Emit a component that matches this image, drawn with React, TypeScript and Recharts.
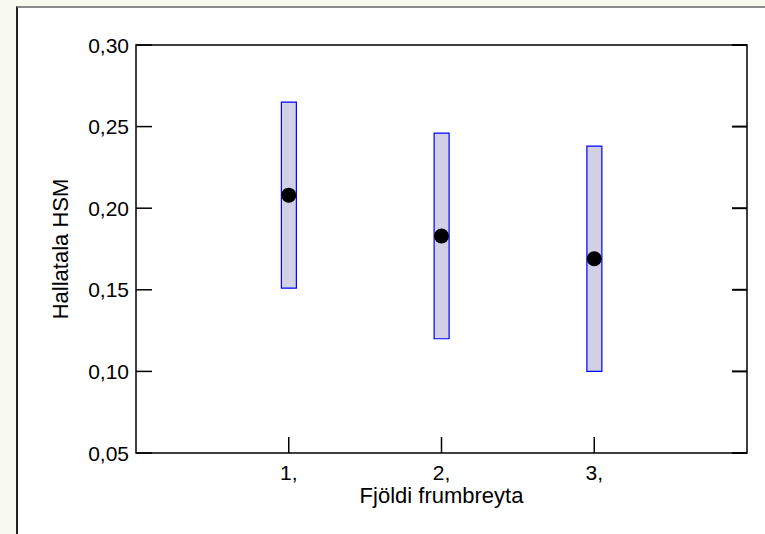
import {
  Bar,
  ComposedChart,
  ReferenceArea,
  Scatter,
  XAxis,
  YAxis,
} from "recharts";

// Fjöldi frumbreyta (number of predictors) and the HSM interval per group
const predictorCounts = [1, 2, 3];
const intervalLow = [0.151, 0.12, 0.1];
const intervalHigh = [0.265, 0.246, 0.238];
const meanValues = [0.208, 0.183, 0.169];

const yTicks = [0.05, 0.1, 0.15, 0.2, 0.25, 0.3];
const xTicks = [1, 2, 3];
const xDomain: [number, number] = [0, 4];
const yDomain: [number, number] = [0.05, 0.3];

const rows = predictorCounts.map((n, i) => ({
  n,
  range: [intervalLow[i], intervalHigh[i]],
  mean: meanValues[i],
}));

const font = "'Liberation Sans', Arial, sans-serif";
const titleStyle = { fontSize: 22, fill: "#000", fontFamily: font };

const fmtY = (v: number) => v.toFixed(2).replace(".", ",");
const fmtX = (v: number) => `${v},`;

// layout
const W = 765;
const H = 534;
const TOP = 45;
const RIGHT = 18;
const Y_AXIS_W = 136;
const X_AXIS_H = 81;
const PLOT_RIGHT = W - RIGHT;
const PLOT_BOTTOM = H - X_AXIS_H;

// y tick label plus short inward ticks on both the left and right edges
function LeftTick(p: any) {
  return (
    <g>
      <line x1={Y_AXIS_W} y1={p.y} x2={Y_AXIS_W + 16} y2={p.y} stroke="#000" strokeWidth={1.5} />
      <line x1={PLOT_RIGHT} y1={p.y} x2={PLOT_RIGHT - 15} y2={p.y} stroke="#000" strokeWidth={2} />
      <text x={p.x} y={p.y} dy="0.36em" textAnchor="end" fontSize={21} fontFamily={font} fill="#000">
        {fmtY(p.payload.value)}
      </text>
    </g>
  );
}

function BottomTick(p: any) {
  return (
    <g>
      <line x1={p.x} y1={PLOT_BOTTOM} x2={p.x} y2={PLOT_BOTTOM - 16} stroke="#000" strokeWidth={1.5} />
      <text x={p.x} y={PLOT_BOTTOM + 12} dy="0.71em" textAnchor="middle" fontSize={21} fontFamily={font} fill="#000">
        {fmtX(p.payload.value)}
      </text>
    </g>
  );
}

export default function App() {
  return (
    <div
      style={{
        position: "absolute",
        left: 0,
        top: 0,
        width: W,
        height: H,
        background: "#f8faf0",
        overflow: "hidden",
      }}
    >
      <div
        style={{
          position: "absolute",
          left: 16,
          top: 6,
          width: 760,
          height: 540,
          background: "#fff",
          borderTop: "2px solid #8a8a8a",
          borderLeft: "2px solid #222",
        }}
      />
      <div style={{ position: "absolute", left: 0, top: 0 }}>
        <ComposedChart
          width={W}
          height={H}
          data={rows}
          margin={{ top: TOP, right: RIGHT, bottom: 0, left: 0 }}
        >
          <XAxis
            xAxisId="b"
            dataKey="n"
            type="number"
            domain={xDomain}
            ticks={xTicks}
            tick={<BottomTick />}
            tickLine={false}
            tickSize={0}
            axisLine={false}
            height={X_AXIS_H}
            label={{
              value: "Fjöldi frumbreyta",
              position: "insideBottom",
              offset: 31,
              style: titleStyle,
            }}
          />
          <YAxis
            yAxisId="l"
            type="number"
            domain={yDomain}
            ticks={yTicks}
            tick={<LeftTick />}
            tickLine={false}
            tickSize={0}
            tickMargin={7}
            axisLine={false}
            width={Y_AXIS_W}
            label={{
              value: "Hallatala HSM",
              angle: -90,
              position: "insideLeft",
              offset: 60,
              style: { ...titleStyle, textAnchor: "middle" },
            }}
          />
          {/* plot frame */}
          <ReferenceArea
            xAxisId="b"
            yAxisId="l"
            x1={xDomain[0]}
            x2={xDomain[1]}
            y1={yDomain[0]}
            y2={yDomain[1]}
            fill="none"
            stroke="#000"
            strokeWidth={1.5}
            ifOverflow="visible"
          />
          <ReferenceArea
            xAxisId="b"
            yAxisId="l"
            x1={xDomain[1]}
            x2={xDomain[1]}
            y1={yDomain[0]}
            y2={yDomain[1]}
            fill="none"
            stroke="#000"
            strokeWidth={2}
            ifOverflow="visible"
          />
          <Bar
            xAxisId="b"
            yAxisId="l"
            dataKey="range"
            barSize={15}
            fill="#d1d0e4"
            stroke="#0000ff"
            strokeWidth={1.2}
            isAnimationActive={false}
          />
          <Scatter
            xAxisId="b"
            yAxisId="l"
            dataKey="mean"
            fill="#000"
            shape={(p: any) => <circle cx={p.cx} cy={p.cy} r={7.5} fill="#000" />}
            isAnimationActive={false}
          />
        </ComposedChart>
      </div>
    </div>
  );
}
